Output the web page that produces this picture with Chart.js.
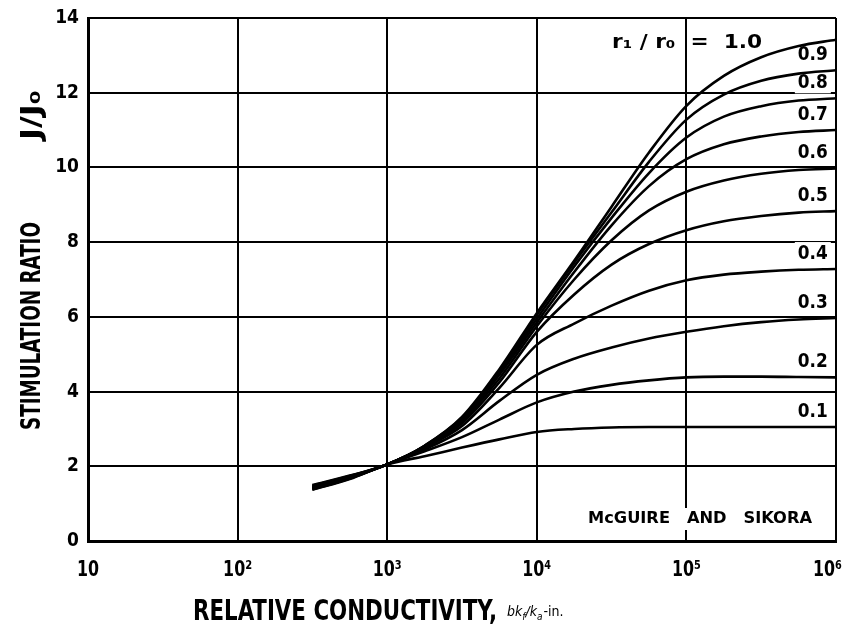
<!DOCTYPE html>
<html>
<head>
<meta charset="utf-8">
<script src="https://cdn.jsdelivr.net/npm/chart.js@4.4.0/dist/chart.umd.min.js"></script>
<style>
  body { margin: 0; background: #fff; }
</style>
</head>
<body>
<canvas id="myChart" width="845" height="630"></canvas>
<script>
// relative conductivity bkf/ka (in.)
var conductivity = [316, 562, 1000, 1778, 3162, 5623, 10000, 17783, 31623, 56234, 100000, 177828, 316228, 562341, 1000000];

// stimulation ratio J/Jo for each r1/ro
var ratio01 = [1.37, 1.66, 2.05, 2.27, 2.50, 2.72, 2.92, 3.00, 3.04, 3.05, 3.05, 3.05, 3.05, 3.05, 3.05];
var ratio02 = [1.38, 1.67, 2.05, 2.40, 2.78, 3.25, 3.71, 4.00, 4.18, 4.30, 4.38, 4.40, 4.40, 4.39, 4.38];
var ratio03 = [1.39, 1.68, 2.05, 2.45, 2.97, 3.75, 4.45, 4.88, 5.18, 5.42, 5.60, 5.75, 5.86, 5.93, 5.97];
var ratio04 = [1.41, 1.69, 2.05, 2.50, 3.08, 4.10, 5.25, 5.82, 6.30, 6.70, 6.98, 7.13, 7.21, 7.26, 7.28];
var ratio05 = [1.42, 1.70, 2.05, 2.51, 3.15, 4.25, 5.60, 6.60, 7.40, 7.95, 8.32, 8.56, 8.70, 8.79, 8.83];
var ratio06 = [1.43, 1.71, 2.05, 2.52, 3.20, 4.35, 5.75, 7.00, 8.05, 8.85, 9.35, 9.65, 9.83, 9.93, 9.97];
var ratio07 = [1.44, 1.72, 2.05, 2.53, 3.24, 4.45, 5.85, 7.20, 8.45, 9.50, 10.22, 10.62, 10.83, 10.95, 11.00];
var ratio08 = [1.46, 1.73, 2.05, 2.54, 3.27, 4.50, 5.95, 7.35, 8.65, 9.85, 10.80, 11.36, 11.64, 11.79, 11.85];
var ratio09 = [1.48, 1.74, 2.05, 2.55, 3.30, 4.55, 6.05, 7.45, 8.80, 10.15, 11.28, 11.95, 12.32, 12.51, 12.60];
var ratio10 = [1.50, 1.75, 2.05, 2.55, 3.32, 4.60, 6.10, 7.50, 8.95, 10.40, 11.65, 12.45, 12.95, 13.25, 13.42];

var series = [ratio01, ratio02, ratio03, ratio04, ratio05, ratio06, ratio07, ratio08, ratio09, ratio10];
var curveLabels = ["0.1", "0.2", "0.3", "0.4", "0.5", "0.6", "0.7", "0.8", "0.9", "1.0"];

var xTicks = [10, 100, 1000, 10000, 100000, 1000000];
var xTickLabels = ["10", "10\u00B2", "10\u00B3", "10\u2074", "10\u2075", "10\u2076"];
var yTicks = [0, 2, 4, 6, 8, 10, 12, 14];

var narrow = '"Liberation Sans Narrow", "DejaVu Sans Condensed", "Liberation Sans", sans-serif';

// squeeze text into a given width, like the old lettering
function fitText(ctx, text, x, y, width) {
    var w = ctx.measureText(text).width;
    ctx.save();
    ctx.translate(x, y);
    ctx.scale(width / w, 1);
    ctx.fillText(text, 0, 0);
    ctx.restore();
}

function labelY(chart, i) {
    var s = series[i];
    return chart.scales.y.getPixelForValue(s[s.length - 1]) - 15;
}

var annotations = {
    id: "annotations",
    // white patches under the curve labels break the grid lines, as on the original
    beforeDatasetsDraw: function (chart) {
        var ctx = chart.ctx;
        var lx = chart.scales.x.getPixelForValue(700000);
        var area = chart.chartArea;
        ctx.save();
        ctx.fillStyle = "#fff";
        for (i = 0; i < series.length - 1; i++) {
            ctx.fillRect(lx - 18, labelY(chart, i) - 12, 36, 22);
        }
        ctx.fillRect(area.right - 250, area.bottom - 33, 228, 22);
        ctx.restore();
    },
    afterDraw: function (chart) {
        var ctx = chart.ctx;
        var xs = chart.scales.x;
        var ys = chart.scales.y;
        var area = chart.chartArea;
        ctx.save();
        ctx.fillStyle = "#000";

        // curve labels at the right end
        ctx.font = "bold 19px " + narrow;
        ctx.textBaseline = "middle";
        var lx = xs.getPixelForValue(700000);
        for (i = 0; i < series.length - 1; i++) {
            fitText(ctx, curveLabels[i], lx - 15, labelY(chart, i), 30);
        }

        // r1/ro = 1.0
        var top = series[series.length - 1];
        ctx.font = "bold 20px " + narrow;
        var ty = ys.getPixelForValue(top[top.length - 1]) + 3;
        fitText(ctx, "r\u2081 / r\u2080  =  " + curveLabels[9], 612, ty, 150);

        // McGUIRE AND SIKORA
        ctx.font = "bold 15px " + narrow;
        fitText(ctx, "McGUIRE   AND   SIKORA", area.right - 248, area.bottom - 22, 224);

        // x tick labels, last one kept inside the canvas
        ctx.font = "bold 22px " + narrow;
        ctx.textBaseline = "middle";
        for (i = 0; i < xTicks.length; i++) {
            var tw = ctx.measureText(xTickLabels[i]).width * 0.8;
            var tx = xs.getPixelForValue(xTicks[i]) - tw / 2;
            if (tx + tw > chart.width - 3) tx = chart.width - 3 - tw;
            fitText(ctx, xTickLabels[i], tx, area.bottom + 29, tw);
        }

        // y axis title
        ctx.save();
        ctx.translate(33, 0);
        ctx.rotate(-Math.PI / 2);
        ctx.font = "bold 26px " + narrow;
        ctx.textBaseline = "middle";
        fitText(ctx, "STIMULATION RATIO", -430, 0, 208);
        fitText(ctx, "J/J\u2080", -140, 0, 50);
        ctx.restore();

        // x axis title
        ctx.textBaseline = "alphabetic";
        ctx.font = "bold 28px " + narrow;
        fitText(ctx, "RELATIVE CONDUCTIVITY,", 193, 620, 304);
        ctx.font = "italic 14px " + narrow;
        var bx = 507;
        ctx.fillText("bk", bx, 616); bx += ctx.measureText("bk").width;
        ctx.font = "italic 10px " + narrow;
        ctx.fillText("f", bx, 620); bx += ctx.measureText("f").width;
        ctx.font = "italic 14px " + narrow;
        ctx.fillText("/k", bx, 616); bx += ctx.measureText("/k").width;
        ctx.font = "italic 10px " + narrow;
        ctx.fillText("a", bx, 620); bx += ctx.measureText("a").width;
        ctx.font = "14px " + narrow;
        ctx.fillText("-in.", bx + 1, 616);

        ctx.restore();
    }
};

var datasets = [];
for (i = 0; i < series.length; i++) {
    datasets.push({
        label: curveLabels[i],
        data: conductivity.map(function (c, j) { return { x: c, y: series[i][j] }; }),
        borderColor: "#000",
        borderWidth: 2.6,
        pointRadius: 0,
        fill: false,
        cubicInterpolationMode: "monotone"
    });
}

var myChart = document.getElementById("myChart").getContext("2d");
var stimChart = new Chart(myChart, {
    type: "line",
    data: { datasets: datasets },
    options: {
        responsive: false,
        animation: false,
        layout: { padding: { top: 18, right: 9, left: 0, bottom: 0 } },
        plugins: {
            legend: { display: false },
            tooltip: { enabled: false }
        },
        scales: {
            x: {
                type: "logarithmic",
                min: 10,
                max: 1000000,
                afterBuildTicks: function (scale) {
                    scale.ticks = xTicks.map(function (v) { return { value: v }; });
                },
                afterFit: function (scale) {
                    scale.height = 89;
                    scale.paddingLeft = 0;
                    scale.paddingRight = 0;
                },
                grid: { color: "#000", lineWidth: 2, drawTicks: false },
                border: { display: true, color: "#000", width: 3 },
                ticks: { display: false }
            },
            y: {
                min: 0,
                max: 14,
                afterBuildTicks: function (scale) {
                    scale.ticks = yTicks.map(function (v) { return { value: v }; });
                },
                afterFit: function (scale) {
                    scale.width = 88;
                    scale.paddingTop = 0;
                    scale.paddingBottom = 0;
                },
                grid: { color: "#000", lineWidth: 2, drawTicks: false },
                border: { display: true, color: "#000", width: 3 },
                ticks: {
                    padding: 9,
                    color: "#000",
                    font: { family: narrow, size: 19, weight: "bold" }
                }
            }
        }
    },
    plugins: [annotations]
});
</script>
</body>
</html>
